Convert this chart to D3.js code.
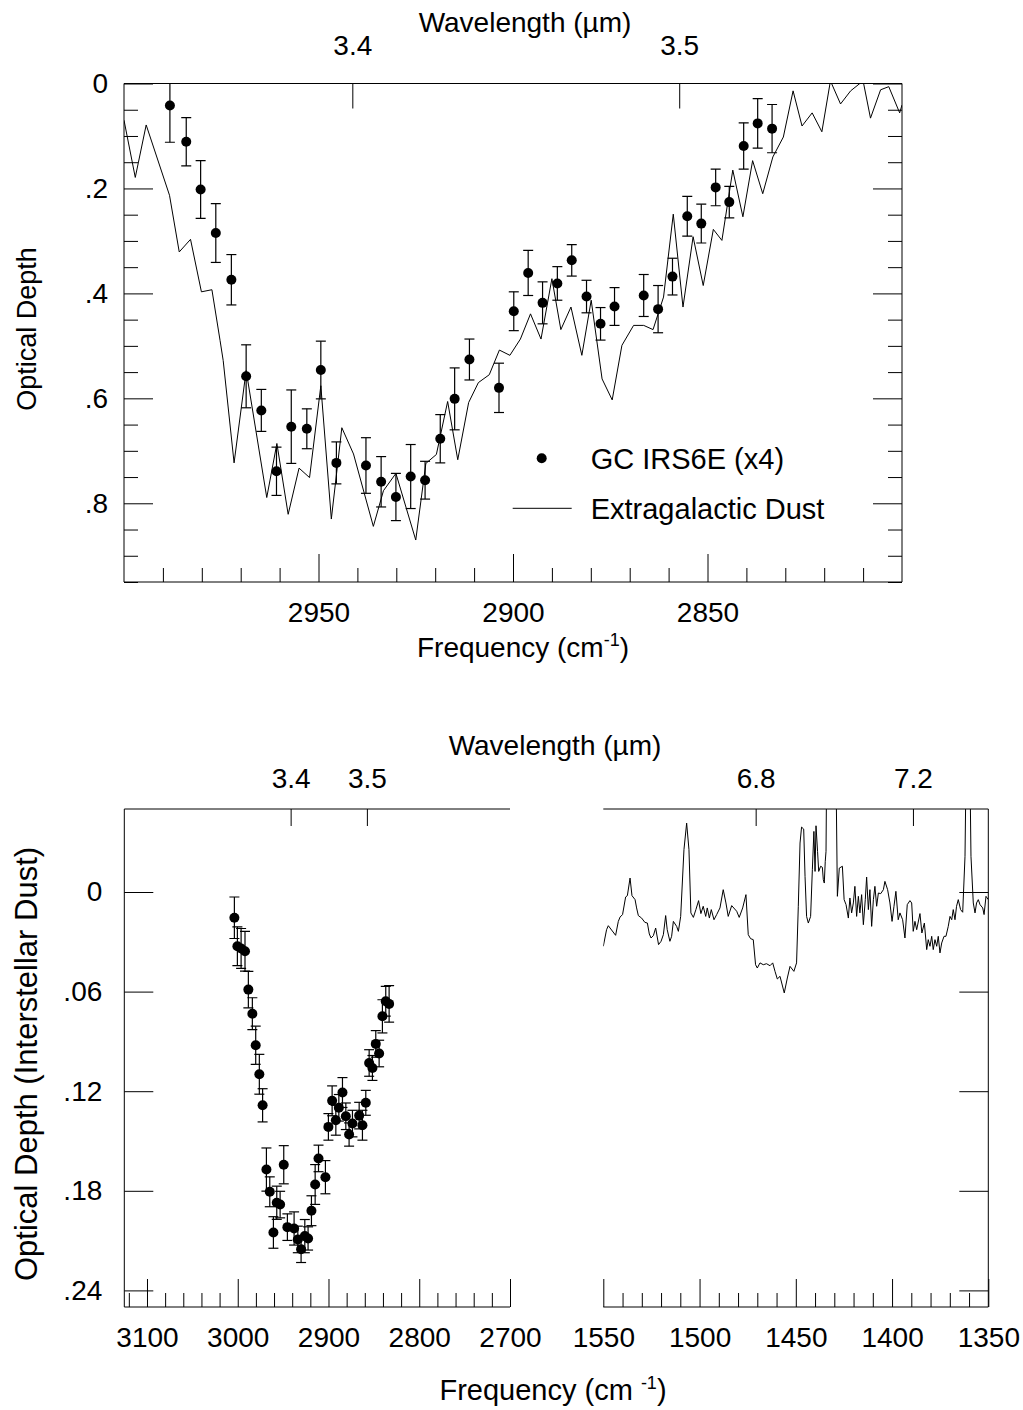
<!DOCTYPE html>
<html><head><meta charset="utf-8">
<script src="https://cdn.jsdelivr.net/npm/d3@7"></script>
<style>
body{margin:0;background:#fff}
svg{display:block}
text{font-family:'Liberation Sans',Arial,Helvetica,sans-serif;fill:#000}
</style>
</head><body>
<svg id="chart" width="1023" height="1410"></svg>
<script>
// ---------- DATA ----------
// Top panel: GC IRS6E (x4) points
const irsFreq = [2988.2,2984.0,2980.3,2976.4,2972.4,2968.6,2964.7,2960.8,2957.0,2953.0,2949.4,2945.4,2937.8,2933.9,2930.1,2926.3,2922.6,2918.7,2915.0,2911.2,2903.6,2899.8,2896.1,2892.4,2888.6,2884.9,2881.1,2877.5,2873.9,2866.4,2862.7,2859.0,2855.2,2851.6,2847.9,2844.4,2840.7,2837.1,2833.4];
const irsDepth = [0.042,0.111,0.202,0.285,0.374,0.558,0.623,0.739,0.654,0.658,0.546,0.723,0.728,0.759,0.788,0.749,0.756,0.677,0.601,0.526,0.580,0.434,0.361,0.418,0.381,0.337,0.406,0.458,0.425,0.404,0.430,0.368,0.253,0.267,0.198,0.226,0.119,0.076,0.086];
const irsErr = [0.070,0.046,0.055,0.056,0.048,0.060,0.040,0.046,0.070,0.038,0.055,0.040,0.053,0.048,0.045,0.061,0.036,0.046,0.059,0.039,0.047,0.037,0.043,0.040,0.032,0.030,0.031,0.031,0.036,0.040,0.045,0.035,0.038,0.037,0.035,0.030,0.044,0.047,0.046];

// Top panel: Extragalactic dust line
const egFreq = [3000.0,2997.1,2994.3,2988.3,2985.8,2982.9,2980.1,2977.4,2975.3,2974.5,2971.7,2968.6,2963.3,2960.7,2957.8,2955.0,2952.3,2949.4,2946.7,2944.0,2941.0,2935.9,2933.3,2930.1,2925.0,2922.4,2919.7,2916.8,2914.2,2911.4,2908.9,2906.1,2903.5,2900.8,2898.1,2895.5,2892.8,2890.0,2887.7,2885.1,2882.3,2879.9,2877.1,2874.5,2872.0,2869.0,2866.4,2864.0,2861.3,2858.8,2856.3,2853.7,2851.1,2848.5,2846.3,2843.5,2840.9,2838.4,2835.8,2833.2,2830.5,2828.0,2825.7,2823.1,2820.6,2818.4,2815.8,2813.2,2810.0,2808.1,2805.5,2803.4,2800.6,2800.0];
const egDepth = [0.070,0.179,0.079,0.213,0.321,0.297,0.397,0.393,0.490,0.528,0.723,0.547,0.789,0.686,0.821,0.733,0.751,0.576,0.830,0.656,0.706,0.844,0.776,0.743,0.870,0.724,0.707,0.606,0.717,0.608,0.570,0.555,0.508,0.518,0.487,0.439,0.487,0.372,0.469,0.426,0.518,0.413,0.563,0.603,0.499,0.461,0.461,0.469,0.407,0.249,0.426,0.292,0.385,0.278,0.299,0.165,0.254,0.147,0.210,0.140,0.102,0.014,0.081,0.056,0.092,-0.005,0.039,0.014,-0.005,0.066,0.012,0.006,0.056,0.041];

// Bottom-left panel: interstellar dust points
const isFreq = [3003.7,3000.4,2996.3,2992.0,2988.3,2983.9,2980.2,2976.2,2972.6,2968.4,2964.7,2960.7,2957.0,2953.3,2949.3,2945.3,2937.9,2933.8,2930.2,2926.1,2922.5,2918.8,2914.7,2911.0,2903.4,2900.1,2896.0,2891.9,2888.6,2884.6,2880.9,2877.3,2873.6,2866.2,2862.6,2858.9,2855.2,2851.6,2847.9,2844.2,2840.6,2836.9,2833.2];
const isDepth = [0.0155,0.0327,0.0340,0.0357,0.0588,0.0733,0.0923,0.1098,0.1285,0.1672,0.1806,0.2051,0.1872,0.1883,0.1643,0.2019,0.2027,0.2093,0.2152,0.2073,0.2087,0.1920,0.1762,0.1605,0.1718,0.1415,0.1258,0.1375,0.1300,0.1208,0.1351,0.1461,0.1395,0.1347,0.1405,0.1270,0.1030,0.1060,0.0915,0.0973,0.0749,0.0658,0.0674];
const isErr = [0.0125,0.0117,0.012,0.012,0.011,0.0096,0.0115,0.012,0.010,0.013,0.009,0.0095,0.010,0.008,0.0115,0.008,0.010,0.008,0.008,0.010,0.007,0.009,0.012,0.008,0.010,0.008,0.009,0.009,0.008,0.009,0.008,0.007,0.008,0.008,0.009,0.0075,0.008,0.0075,0.008,0.008,0.010,0.009,0.011];

// Bottom-right panel: spectrum 1550-1350 cm-1
const spFreq = [1550.0,1548.3,1547.4,1543.6,1542.2,1541.3,1540.0,1538.4,1537.5,1536.1,1535.1,1533.5,1532.7,1531.8,1530.1,1528.4,1527.1,1526.1,1525.2,1524.0,1522.8,1521.3,1520.0,1518.8,1517.6,1516.8,1515.4,1514.5,1513.6,1511.9,1511.0,1509.8,1508.1,1506.7,1505.5,1504.5,1503.2,1501.9,1500.5,1499.3,1498.1,1496.8,1496.0,1494.9,1493.9,1492.5,1491.1,1489.4,1487.7,1486.3,1485.1,1483.3,1480.7,1479.4,1477.6,1475.9,1474.7,1473.5,1472.1,1470.9,1470.0,1468.6,1466.9,1465.2,1463.4,1462.0,1460.8,1459.6,1458.2,1456.0,1454.4,1453.0,1451.0,1449.6,1448.7,1447.8,1447.0,1445.9,1445.2,1444.4,1443.5,1442.3,1441.4,1440.6,1440.0,1439.5,1438.7,1438.1,1437.1,1436.2,1435.7,1435.2,1434.7,1434.3,1434.0,1429.1,1428.4,1427.4,1425.8,1424.9,1423.9,1422.7,1421.9,1421.0,1420.1,1419.3,1418.4,1417.5,1416.7,1415.8,1414.9,1413.9,1413.2,1412.3,1411.5,1410.6,1409.7,1408.9,1408.0,1407.1,1405.9,1404.5,1403.7,1402.3,1401.1,1400.0,1399.0,1398.0,1396.8,1395.9,1394.5,1393.3,1392.1,1390.7,1389.8,1389.0,1388.1,1387.2,1385.5,1384.5,1383.2,1382.0,1381.2,1380.3,1379.4,1378.6,1377.7,1376.8,1376.0,1375.1,1374.2,1373.0,1372.0,1370.8,1369.9,1369.0,1368.2,1367.3,1366.5,1365.6,1364.4,1363.3,1362.1,1361.6,1359.5,1359.0,1357.8,1356.9,1356.1,1355.2,1354.3,1352.9,1352.2,1351.2,1350.0];
const spDepth = [0.0327,0.0227,0.0203,0.0261,0.0177,0.0151,0.0136,0.0030,0.0022,-0.0084,0.0022,0.0046,0.0096,0.0142,0.0157,0.0183,0.0187,0.0253,0.0277,0.0263,0.0217,0.0317,0.0297,0.0257,0.0142,0.0227,0.0297,0.0267,0.0177,0.0207,0.0237,0.0147,-0.0255,-0.0415,-0.0255,0.0126,0.0153,0.0106,0.0052,0.0130,0.0086,0.0147,0.0096,0.0157,0.0106,0.0167,0.0136,0.0096,-0.0014,0.0066,0.0147,0.0082,0.0116,0.0153,0.0096,0.0016,0.0257,0.0281,0.0287,0.0438,0.0458,0.0427,0.0438,0.0432,0.0444,0.0427,0.0478,0.0524,0.0508,0.0608,0.0518,0.0448,0.0478,0.0427,0.0086,-0.0295,-0.0391,-0.0379,-0.0094,0.0147,0.0187,0.0147,-0.0134,-0.0365,-0.0124,-0.0399,-0.0245,-0.0124,-0.0155,-0.0149,-0.0074,-0.0054,-0.0185,-0.0245,-0.0700,-0.0700,0.0026,-0.0144,-0.0155,0.0046,0.0076,0.0157,0.0036,0.0126,0.0066,-0.0034,0.0147,0.0026,0.0126,0.0016,0.0197,0.0046,-0.0090,0.0106,-0.0014,0.0207,0.0046,-0.0034,0.0086,0.0006,0.0010,-0.0014,-0.0064,-0.0014,0.0066,0.0177,0.0086,-0.0004,0.0167,0.0126,0.0167,0.0277,0.0076,0.0052,0.0066,0.0237,0.0177,0.0227,0.0130,0.0247,0.0187,0.0347,0.0287,0.0327,0.0267,0.0347,0.0287,0.0327,0.0267,0.0367,0.0307,0.0267,0.0267,0.0207,0.0147,0.0167,0.0106,0.0167,0.0086,0.0046,0.0106,0.0122,-0.0215,-0.0700,-0.0700,-0.0215,0.0066,0.0126,0.0066,0.0046,0.0076,0.0096,0.0136,0.0026,0.0046];

// Tick labels
const topYTicks = [0, 0.2, 0.4, 0.6, 0.8];
const topXTicks = [2950, 2900, 2850];
const topWaveTicks = [3.4, 3.5];
const botYTicks = [0, 0.06, 0.12, 0.18, 0.24];
const blXTicks = [3100, 3000, 2900, 2800, 2700];
const brXTicks = [1550, 1500, 1450, 1400, 1350];
const blWaveTicks = [3.4, 3.5];
const brWaveTicks = [6.8, 7.2];

// ---------- DRAWING ----------
const svg = d3.select("#chart");
const FS = 28;
const fmtDot = (p) => (d) => d === 0 ? "0" : d3.format("." + p + "f")(d).replace(/^0/, "");

function tickAxis(g, axisFn, scale, values, size, tr) {
  g.append("g").attr("transform", tr)
    .call(axisFn(scale).tickValues(values).tickSize(size).tickFormat(""))
    .call(s => { s.select(".domain").remove(); s.selectAll("line").attr("stroke", "#000").attr("stroke-width", 1); });
}
function labelAxis(g, axisFn, scale, values, pad, fmt, tr, fs) {
  g.append("g").attr("transform", tr)
    .call(axisFn(scale).tickValues(values).tickSize(0).tickPadding(pad).tickFormat(fmt))
    .call(s => { s.select(".domain").remove(); s.selectAll("text").attr("font-size", fs || FS).attr("font-family", null).attr("fill", "#000"); });
}
function hline(g, x1, x2, y) { g.append("line").attr("x1", x1).attr("x2", x2).attr("y1", y).attr("y2", y).attr("stroke", "#000").attr("stroke-width", 1); }
function vline(g, x, y1, y2) { g.append("line").attr("x1", x).attr("x2", x).attr("y1", y1).attr("y2", y2).attr("stroke", "#000").attr("stroke-width", 1); }
const rangeStep = (a, b, s) => d3.range(Math.round((b - a) / s) + 1).map(i => +(a + i * s).toFixed(4));

// ===== TOP PANEL =====
const T = {l: 124, r: 902, t: 83.5, b: 582};
const xT = d3.scaleLinear().domain([3000, 2800]).range([T.l, T.r]);
const yT = d3.scaleLinear().domain([0, 0.95]).range([T.t, T.b]);
const gT = svg.append("g");
svg.append("clipPath").attr("id", "clipT").append("rect").attr("x", T.l).attr("y", T.t).attr("width", T.r - T.l).attr("height", T.b - T.t);

// frame
hline(gT, T.l, T.r, T.t); hline(gT, T.l, T.r, T.b); vline(gT, T.l, T.t, T.b); vline(gT, T.r, T.t, T.b);
// y ticks left/right
const topYMinor = rangeStep(0, 0.95, 0.05).filter(v => !topYTicks.some(m => Math.abs(m - v) < 1e-6));
tickAxis(gT, d3.axisRight, yT, topYTicks, 29, `translate(${T.l},0)`);
tickAxis(gT, d3.axisRight, yT, topYMinor, 14, `translate(${T.l},0)`);
tickAxis(gT, d3.axisLeft, yT, topYTicks, 29, `translate(${T.r},0)`);
tickAxis(gT, d3.axisLeft, yT, topYMinor, 14, `translate(${T.r},0)`);
// x ticks bottom
const topXMinor = rangeStep(2810, 2990, 10).filter(v => !topXTicks.includes(v));
tickAxis(gT, d3.axisTop, xT, topXTicks, 28, `translate(0,${T.b})`);
tickAxis(gT, d3.axisTop, xT, topXMinor, 14, `translate(0,${T.b})`);
// wavelength ticks top
const xTwave = (l) => xT(10000 / l);
gT.append("g").selectAll("line").data(topWaveTicks).join("line")
  .attr("x1", d => xTwave(d)).attr("x2", d => xTwave(d)).attr("y1", T.t).attr("y2", T.t + 25).attr("stroke", "#000");
gT.append("g").selectAll("text").data(topWaveTicks).join("text")
  .attr("x", d => xTwave(d)).attr("y", 55).attr("text-anchor", "middle").attr("font-size", FS).text(d => d3.format(".1f")(d));
// labels
labelAxis(gT, d3.axisLeft, yT, topYTicks, 16, fmtDot(1), `translate(${T.l},0)`);
labelAxis(gT, d3.axisBottom, xT, topXTicks, 20, d3.format("d"), `translate(0,${T.b})`);
gT.append("text").attr("x", 525).attr("y", 32).attr("text-anchor", "middle").attr("font-size", FS).text("Wavelength (\u00b5m)");
const ft = gT.append("text").attr("x", 523).attr("y", 657).attr("text-anchor", "middle").attr("font-size", FS);
ft.append("tspan").text("Frequency (cm");
ft.append("tspan").attr("dy", -11).attr("font-size", 18).text("-1");
ft.append("tspan").attr("dy", 11).text(")");
gT.append("text").attr("transform", "translate(36,329) rotate(-90)").attr("text-anchor", "middle").attr("font-size", 27).text("Optical Depth");

// data
const dT = gT.append("g").attr("clip-path", "url(#clipT)");
const egData = egFreq.map((f, i) => [f, egDepth[i]]);
dT.append("path").datum(egData).attr("fill", "none").attr("stroke", "#000").attr("stroke-width", 1)
  .attr("d", d3.line().x(d => xT(d[0])).y(d => yT(d[1])));
const irs = irsFreq.map((f, i) => ({f, d: irsDepth[i], e: irsErr[i]}));
const eb = dT.append("g").selectAll("g").data(irs).join("g");
eb.append("line").attr("x1", d => xT(d.f)).attr("x2", d => xT(d.f)).attr("y1", d => yT(d.d - d.e)).attr("y2", d => yT(d.d + d.e)).attr("stroke", "#000").attr("stroke-width", 1.2);
eb.append("line").attr("x1", d => xT(d.f) - 5).attr("x2", d => xT(d.f) + 5).attr("y1", d => yT(d.d - d.e)).attr("y2", d => yT(d.d - d.e)).attr("stroke", "#000").attr("stroke-width", 1.2);
eb.append("line").attr("x1", d => xT(d.f) - 5).attr("x2", d => xT(d.f) + 5).attr("y1", d => yT(d.d + d.e)).attr("y2", d => yT(d.d + d.e)).attr("stroke", "#000").attr("stroke-width", 1.2);
eb.append("circle").attr("cx", d => xT(d.f)).attr("cy", d => yT(d.d)).attr("r", 5).attr("fill", "#000");

// legend
gT.append("circle").attr("cx", 541.7).attr("cy", 458.3).attr("r", 5).attr("fill", "#000");
gT.append("text").attr("x", 590.7).attr("y", 468.5).attr("font-size", 29).text("GC IRS6E (x4)");
hline(gT, 512.7, 571.7, 508.3);
gT.append("text").attr("x", 590.7).attr("y", 518.5).attr("font-size", 29).text("Extragalactic Dust");

// ===== BOTTOM PANELS =====
const B = {t: 809, b: 1307};
const yB = d3.scaleLinear().domain([-0.05, 0.25]).range([B.t, B.b]);
const L = {l: 124.3, r: 510};
const R = {l: 603.3, r: 988.3};
const xL = d3.scaleLinear().domain([3125, 2700]).range([L.l, L.r]);
const xR = d3.scaleLinear().domain([1550, 1350]).range([R.l, R.r]);
const gB = svg.append("g");
svg.append("clipPath").attr("id", "clipL").append("rect").attr("x", L.l).attr("y", B.t).attr("width", L.r - L.l).attr("height", B.b - B.t);
svg.append("clipPath").attr("id", "clipR").append("rect").attr("x", R.l).attr("y", B.t).attr("width", R.r - R.l).attr("height", B.b - B.t);

// frames
hline(gB, L.l, L.r, B.t); hline(gB, L.l, L.r, B.b); vline(gB, L.l, B.t, B.b);
hline(gB, R.l, R.r, B.t); hline(gB, R.l, R.r, B.b); vline(gB, R.r, B.t, B.b);
// y ticks
tickAxis(gB, d3.axisRight, yB, botYTicks, 29, `translate(${L.l},0)`);
tickAxis(gB, d3.axisLeft, yB, botYTicks, 29, `translate(${R.r},0)`);
labelAxis(gB, d3.axisLeft, yB, botYTicks, 22, fmtDot(2), `translate(${L.l},0)`);
// x ticks
const blMinor = rangeStep(2720, 3120, 20).filter(v => !blXTicks.includes(v));
tickAxis(gB, d3.axisTop, xL, blXTicks, 28, `translate(0,${B.b})`);
tickAxis(gB, d3.axisTop, xL, blMinor, 14, `translate(0,${B.b})`);
labelAxis(gB, d3.axisBottom, xL, blXTicks, 20, d3.format("d"), `translate(0,${B.b})`);
const brMinor = rangeStep(1350, 1550, 10).filter(v => !brXTicks.includes(v));
tickAxis(gB, d3.axisTop, xR, brXTicks, 28, `translate(0,${B.b})`);
tickAxis(gB, d3.axisTop, xR, brMinor, 14, `translate(0,${B.b})`);
labelAxis(gB, d3.axisBottom, xR, brXTicks, 20, d3.format("d"), `translate(0,${B.b})`);
// wavelength ticks
const waveTicks = [...blWaveTicks.map(w => ({w, x: xL(10000 / w)})), ...brWaveTicks.map(w => ({w, x: xR(10000 / w)}))];
gB.append("g").selectAll("line").data(waveTicks).join("line")
  .attr("x1", d => d.x).attr("x2", d => d.x).attr("y1", B.t).attr("y2", B.t + 17).attr("stroke", "#000");
gB.append("g").selectAll("text").data(waveTicks).join("text")
  .attr("x", d => d.x).attr("y", 788).attr("text-anchor", "middle").attr("font-size", FS).text(d => d3.format(".1f")(d.w));
gB.append("text").attr("x", 555).attr("y", 755).attr("text-anchor", "middle").attr("font-size", FS).text("Wavelength (\u00b5m)");
const fb = gB.append("text").attr("x", 553).attr("y", 1400).attr("text-anchor", "middle").attr("font-size", 29);
fb.append("tspan").text("Frequency (cm ");
fb.append("tspan").attr("dy", -11).attr("font-size", 18).text("-1");
fb.append("tspan").attr("dy", 11).text(")");
gB.append("text").attr("transform", "translate(37,1064) rotate(-90)").attr("text-anchor", "middle").attr("font-size", 31).text("Optical Depth (Interstellar Dust)");

// left data
const dL = gB.append("g").attr("clip-path", "url(#clipL)");
const isd = isFreq.map((f, i) => ({f, d: isDepth[i], e: isErr[i]}));
const ebL = dL.append("g").selectAll("g").data(isd).join("g");
ebL.append("line").attr("x1", d => xL(d.f)).attr("x2", d => xL(d.f)).attr("y1", d => yB(d.d - d.e)).attr("y2", d => yB(d.d + d.e)).attr("stroke", "#000").attr("stroke-width", 1.2);
ebL.append("line").attr("x1", d => xL(d.f) - 5).attr("x2", d => xL(d.f) + 5).attr("y1", d => yB(d.d - d.e)).attr("y2", d => yB(d.d - d.e)).attr("stroke", "#000").attr("stroke-width", 1.2);
ebL.append("line").attr("x1", d => xL(d.f) - 5).attr("x2", d => xL(d.f) + 5).attr("y1", d => yB(d.d + d.e)).attr("y2", d => yB(d.d + d.e)).attr("stroke", "#000").attr("stroke-width", 1.2);
ebL.append("circle").attr("cx", d => xL(d.f)).attr("cy", d => yB(d.d)).attr("r", 5).attr("fill", "#000");

// right data
const dR = gB.append("g").attr("clip-path", "url(#clipR)");
const spData = spFreq.map((f, i) => [f, spDepth[i]]);
dR.append("path").datum(spData).attr("fill", "none").attr("stroke", "#000").attr("stroke-width", 1)
  .attr("d", d3.line().x(d => xR(d[0])).y(d => yB(d[1])));
</script>
</body></html>
